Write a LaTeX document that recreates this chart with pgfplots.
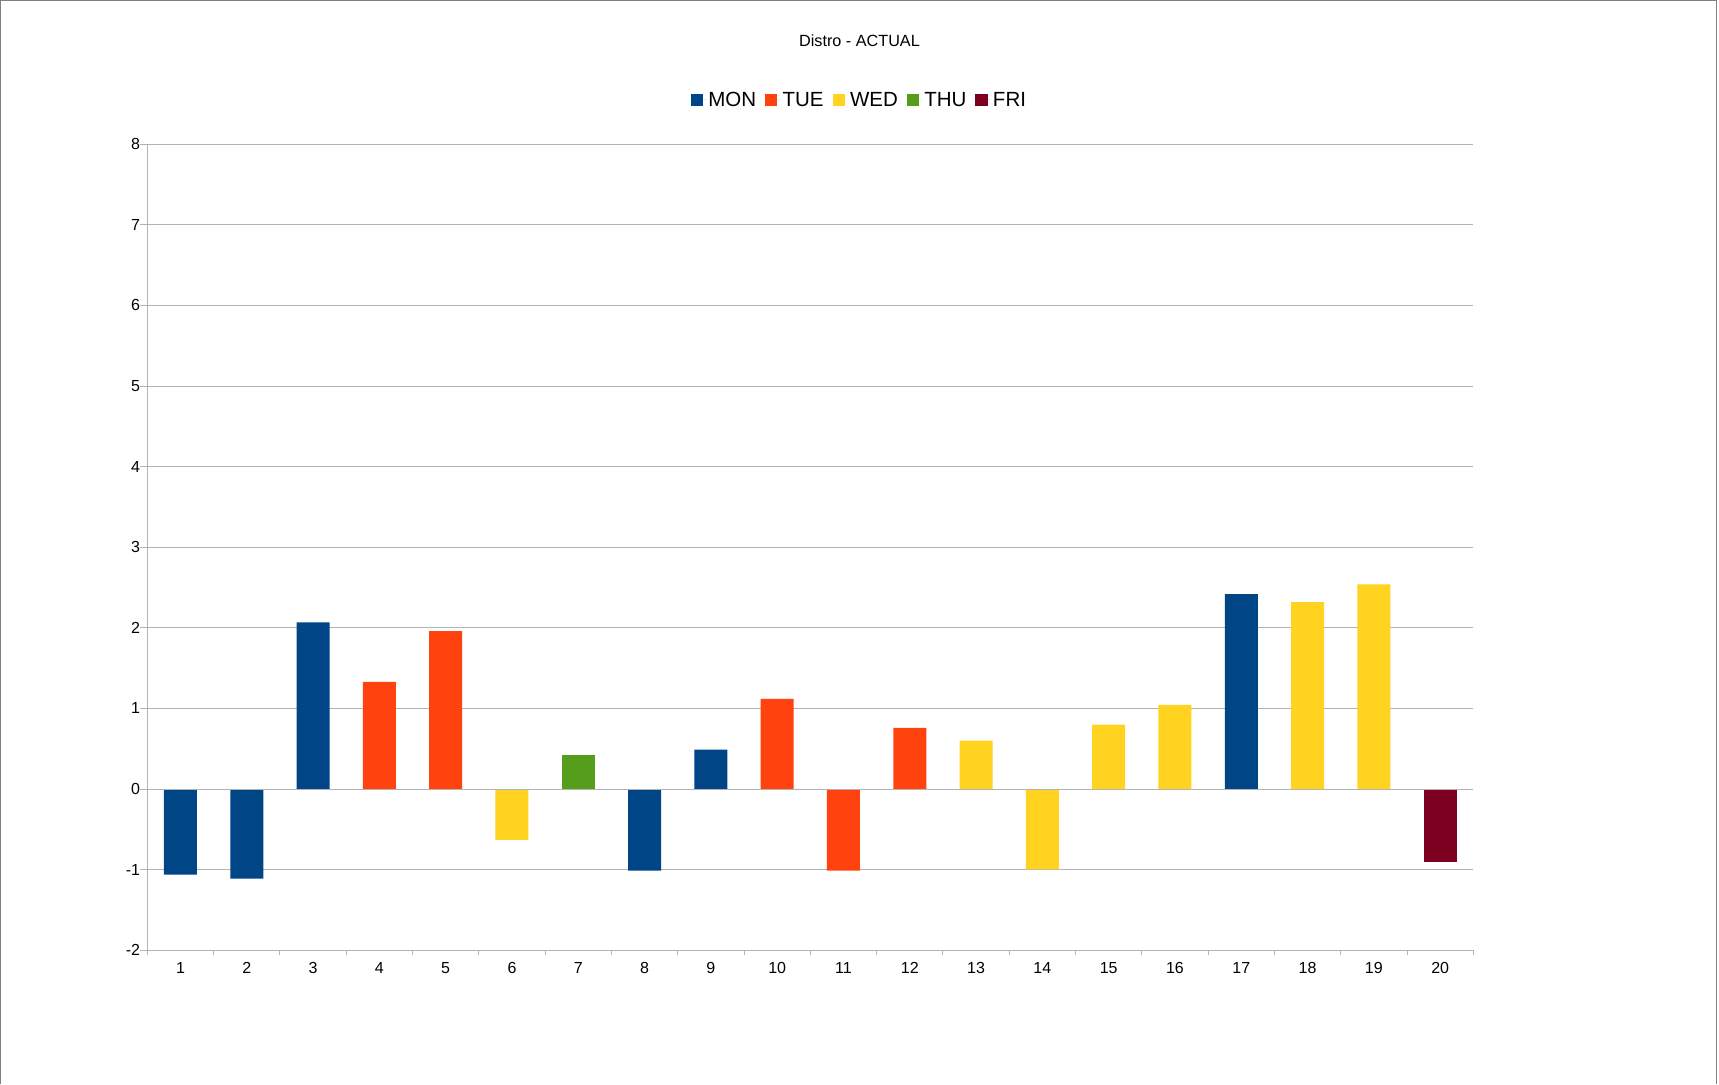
\documentclass[border=0pt]{standalone}
\usepackage{pgfplots}
\pgfplotsset{compat=1.18}
\usepackage{fontspec}
\setmainfont{Liberation Sans}
\definecolor{cMON}{HTML}{004586}
\definecolor{cTUE}{HTML}{FF420E}
\definecolor{cWED}{HTML}{FFD320}
\definecolor{cTHU}{HTML}{579D1C}
\definecolor{cFRI}{HTML}{7E0021}
\definecolor{gridc}{HTML}{B3B3B3}
\definecolor{framec}{HTML}{808080}
\begin{document}
\begin{tikzpicture}[x=1bp,y=1bp]
\path[use as bounding box] (0,0) rectangle (1719,1084);
\draw[framec,line width=1.2bp] (0.6,0) -- (0.6,1083.4) -- (1716.8,1083.4) -- (1716.8,0);
\node[font=\fontsize{16.2bp}{19bp}\selectfont, anchor=base] at (859.5,1084-47) {Distro - ACTUAL};
\begin{axis}[
  at={(147.3bp,133.7bp)}, anchor=south west,
  width=1326bp, height=806bp, scale only axis,
  xmin=0.5, xmax=20.5, ymin=-2, ymax=8,
  ytick={-2,-1,...,8},
  xtick={1,...,20},
  minor xtick={0.5,1.5,...,20.5},
  major x tick style={draw=none},
  tick align=outside,
  major tick length=7bp, minor tick length=5bp,
  every tick/.style={gridc, line width=1bp},
  axis line style={gridc, line width=1bp},
  ymajorgrids, grid style={gridc, line width=1bp},
  axis x line*=bottom, axis y line*=left,
  /pgf/number format/assume math mode=true,
  ticklabel style={font=\fontsize{16bp}{19bp}\selectfont, inner sep=0pt},
  yticklabel style={anchor=east, xshift=0bp},
  xticklabel style={anchor=north, yshift=-5bp},
  ybar, bar width=33bp, bar shift=0pt,
  legend columns=5,
  legend style={at={(rel axis cs:0.537,1.055)}, anchor=center, draw=none, fill=none,
    font=\fontsize{20.5bp}{24bp}\selectfont,
    /tikz/every even column/.append style={column sep=7bp}},
  legend image code/.code={\fill[#1] (0bp,-6.2bp) rectangle (12.3bp,6.2bp);
    \path (0bp,0bp) -- (15.5bp,0bp);},
]
\addplot[fill=cMON, draw=none] coordinates {(1,-1.06) (2,-1.11) (3,2.07) (8,-1.01) (9,0.49) (17,2.42)};
\addlegendentry{MON}
\addplot[fill=cTUE, draw=none] coordinates {(4,1.33) (5,1.96) (10,1.12) (11,-1.01) (12,0.76)};
\addlegendentry{TUE}
\addplot[fill=cWED, draw=none] coordinates {(6,-0.63) (13,0.60) (14,-0.995) (15,0.80) (16,1.044) (18,2.32) (19,2.54)};
\addlegendentry{WED}
\addplot[fill=cTHU, draw=none] coordinates {(7,0.425)};
\addlegendentry{THU}
\addplot[fill=cFRI, draw=none] coordinates {(20,-0.91)};
\addlegendentry{FRI}
\end{axis}
\begin{axis}[
  at={(147.3bp,133.7bp)}, anchor=south west,
  width=1326bp, height=806bp, scale only axis,
  xmin=0.5, xmax=20.5, ymin=-2, ymax=8,
  axis x line=middle, axis y line=none,
  xtick=\empty, minor xtick={0.5,1.5,...,20.5},
  tick align=outside, minor tick length=5bp,
  every tick/.style={gridc, line width=1bp},
  axis line style={gridc, line width=1bp, -},
]
\end{axis}
\end{tikzpicture}
\end{document}
